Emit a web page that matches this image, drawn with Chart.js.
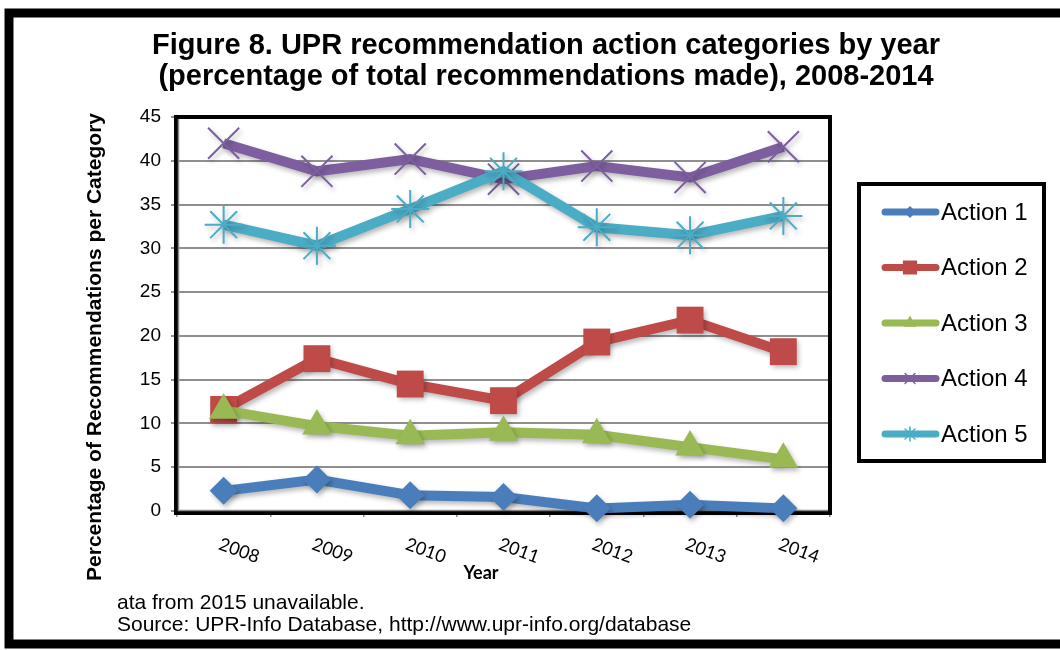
<!DOCTYPE html>
<html>
<head>
<meta charset="utf-8">
<script src="https://cdn.jsdelivr.net/npm/chart.js@4.4.0/dist/chart.umd.min.js"></script>
<style>
  html, body { margin: 0; padding: 0; background: #fff; }
</style>
</head>
<body>
<canvas id="upr" width="1060" height="650"></canvas>
<script>
// data
const years = ['2008', '2009', '2010', '2011', '2012', '2013', '2014'];
const action1 = [2.3, 3.6, 1.8, 1.6, 0.3, 0.7, 0.3];
const action2 = [11.6, 17.4, 14.5, 12.6, 19.3, 21.8, 18.2];
const action3 = [11.5, 9.7, 8.6, 9.0, 8.7, 7.3, 5.9];
const action4 = [42.0, 38.8, 40.2, 37.9, 39.4, 38.1, 41.6];
const action5 = [32.7, 30.3, 34.5, 38.8, 32.4, 31.5, 33.7];
const seriesNames = ['Action 1', 'Action 2', 'Action 3', 'Action 4', 'Action 5'];
const yMin = 0, yMax = 45, yStep = 5;

const titleLines = ['Figure 8. UPR recommendation action categories by year',
                    '(percentage of total recommendations made), 2008-2014'];
const yTitle = 'Percentage of Recommendations per Category';
const xTitle = 'Year';
const notes = ['ata from 2015 unavailable.',
               'Source: UPR-Info Database, http://www.upr-info.org/database'];

// marker settings per series
const colors = ['#4a7ebb', '#be4b48', '#98b954', '#7d5fa0', '#4bacc6'];
const markers = ['rectRot', 'rect', 'triangle', 'crossRot', 'star'];
const markerSize = [14, 19, 17, 22, 19];
const legendMarkerSize = [5, 9, 6, 7, 7];

function makeSet(i, values) {
    const hollow = markers[i] === 'crossRot' || markers[i] === 'star';
    return {
        label: seriesNames[i],
        data: values,
        borderColor: colors[i],
        backgroundColor: colors[i],
        borderWidth: 10,
        pointStyle: markers[i],
        pointRadius: markerSize[i],
        pointBorderWidth: hollow ? 2 : 0,
        pointBackgroundColor: colors[i],
        pointBorderColor: colors[i],
        tension: 0,
        clip: false,
        order: 5 - i
    };
}

const decor = {
    id: 'decor',
    beforeDraw(chart) {
        const ctx = chart.ctx;
        ctx.save();
        ctx.fillStyle = '#fff';
        ctx.fillRect(0, 0, chart.width, chart.height);
        // outer frame, cut off on the right
        ctx.strokeStyle = '#000';
        ctx.lineWidth = 9;
        ctx.strokeRect(9, 13, 1080, 631);
        ctx.restore();
    },
    beforeDatasetsDraw(chart) {
        const ctx = chart.ctx, a = chart.chartArea;
        ctx.save();
        ctx.strokeStyle = '#000';
        ctx.lineWidth = 4;
        ctx.strokeRect(a.left - 1, a.top, a.right - a.left + 1, a.bottom - a.top + 2);
        ctx.strokeStyle = '#8a8a8a';
        ctx.lineWidth = 1.5;
        ctx.beginPath();
        ctx.moveTo(a.left + 1.5, a.top + 2);
        ctx.lineTo(a.left + 1.5, a.bottom - 0.5);
        ctx.lineTo(a.right - 2, a.bottom - 0.5);
        ctx.stroke();
        ctx.restore();
    },
    beforeDatasetDraw(chart) {
        const ctx = chart.ctx;
        ctx.save();
        ctx.shadowColor = 'rgba(0,0,0,0.28)';
        ctx.shadowBlur = 5;
        ctx.shadowOffsetX = 2;
        ctx.shadowOffsetY = 3;
    },
    afterDatasetDraw(chart) {
        chart.ctx.restore();
    },
    afterDraw(chart) {
        const ctx = chart.ctx, a = chart.chartArea;
        const xs = chart.scales.x;
        ctx.save();
        ctx.fillStyle = '#000';

        // title
        ctx.font = 'bold 29px "Liberation Sans", Arial, sans-serif';
        ctx.textAlign = 'center';
        ctx.textBaseline = 'alphabetic';
        ctx.fillText(titleLines[0], 546, 54);
        ctx.fillText(titleLines[1], 546, 85);

        // rotated year labels
        ctx.font = '18px Lato, "Open Sans", sans-serif';
        ctx.textAlign = 'left';
        ctx.textBaseline = 'top';
        years.forEach((y, i) => {
            const px = xs.getPixelForValue(i);
            ctx.save();
            ctx.translate(px - 1, a.bottom + 24);
            ctx.rotate(20 * Math.PI / 180);
            ctx.fillText(y, 0, 0);
            ctx.restore();
        });

        // axis titles
        ctx.font = 'bold 18px Lato, "Open Sans", sans-serif';
        ctx.textAlign = 'center';
        ctx.textBaseline = 'middle';
        ctx.fillText(xTitle, 481, 573);
        ctx.save();
        ctx.translate(95, 347);
        ctx.rotate(-Math.PI / 2);
        ctx.font = 'bold 21px "Liberation Sans", Arial, sans-serif';
        ctx.fillText(yTitle, 0, 0);
        ctx.restore();

        // notes under the chart
        ctx.font = '21px "Liberation Sans", Arial, sans-serif';
        ctx.textAlign = 'left';
        ctx.fillText(notes[0], 117, 603);
        ctx.fillText(notes[1], 117, 625);

        // legend
        ctx.strokeStyle = '#000';
        ctx.lineWidth = 4;
        ctx.strokeRect(859, 184, 185, 277);
        chart.data.datasets.forEach((ds, i) => {
            const cy = 212 + i * 55.5;
            ctx.strokeStyle = ds.borderColor;
            ctx.lineWidth = 7;
            ctx.lineCap = 'round';
            ctx.beginPath();
            ctx.moveTo(885, cy);
            ctx.lineTo(936, cy);
            ctx.stroke();
            ctx.fillStyle = ds.borderColor;
            ctx.lineWidth = 1.5;
            Chart.helpers.drawPoint(ctx, {
                pointStyle: ds.pointStyle,
                radius: legendMarkerSize[i],
                rotation: 0,
                borderWidth: 1.5
            }, 910, cy);
            ctx.fillStyle = '#000';
            ctx.font = '24px "Liberation Sans", Arial, sans-serif';
            ctx.textAlign = 'left';
            ctx.textBaseline = 'middle';
            ctx.fillText(ds.label, 941, cy + 1);
        });
        ctx.restore();
    }
};

new Chart(document.getElementById('upr'), {
    type: 'line',
    data: {
        labels: years,
        datasets: [
            makeSet(0, action1),
            makeSet(1, action2),
            makeSet(2, action3),
            makeSet(3, action4),
            makeSet(4, action5)
        ]
    },
    options: {
        responsive: false,
        devicePixelRatio: 1,
        animation: false,
        layout: { padding: { top: 117, right: 230, left: 0, bottom: 0 } },
        plugins: {
            legend: { display: false },
            title: { display: false },
            tooltip: { enabled: false }
        },
        scales: {
            x: {
                offset: true,
                grid: {
                    offset: true,
                    drawOnChartArea: false,
                    drawTicks: true,
                    tickLength: 6,
                    color: '#8a8a8a',
                    lineWidth: 1.5
                },
                border: { display: false },
                ticks: { display: false },
                afterFit(s) { s.height = 139; }
            },
            y: {
                min: yMin,
                max: yMax,
                grid: {
                    color: '#8f8f8f',
                    lineWidth: 2,
                    tickLength: 6
                },
                border: { display: false },
                ticks: {
                    stepSize: yStep,
                    color: '#000',
                    padding: 10,
                    font: { family: '"Liberation Sans", Arial, sans-serif', size: 19 }
                },
                afterFit(s) { s.width = 177; }
            }
        }
    },
    plugins: [decor]
});
</script>
</body>
</html>
